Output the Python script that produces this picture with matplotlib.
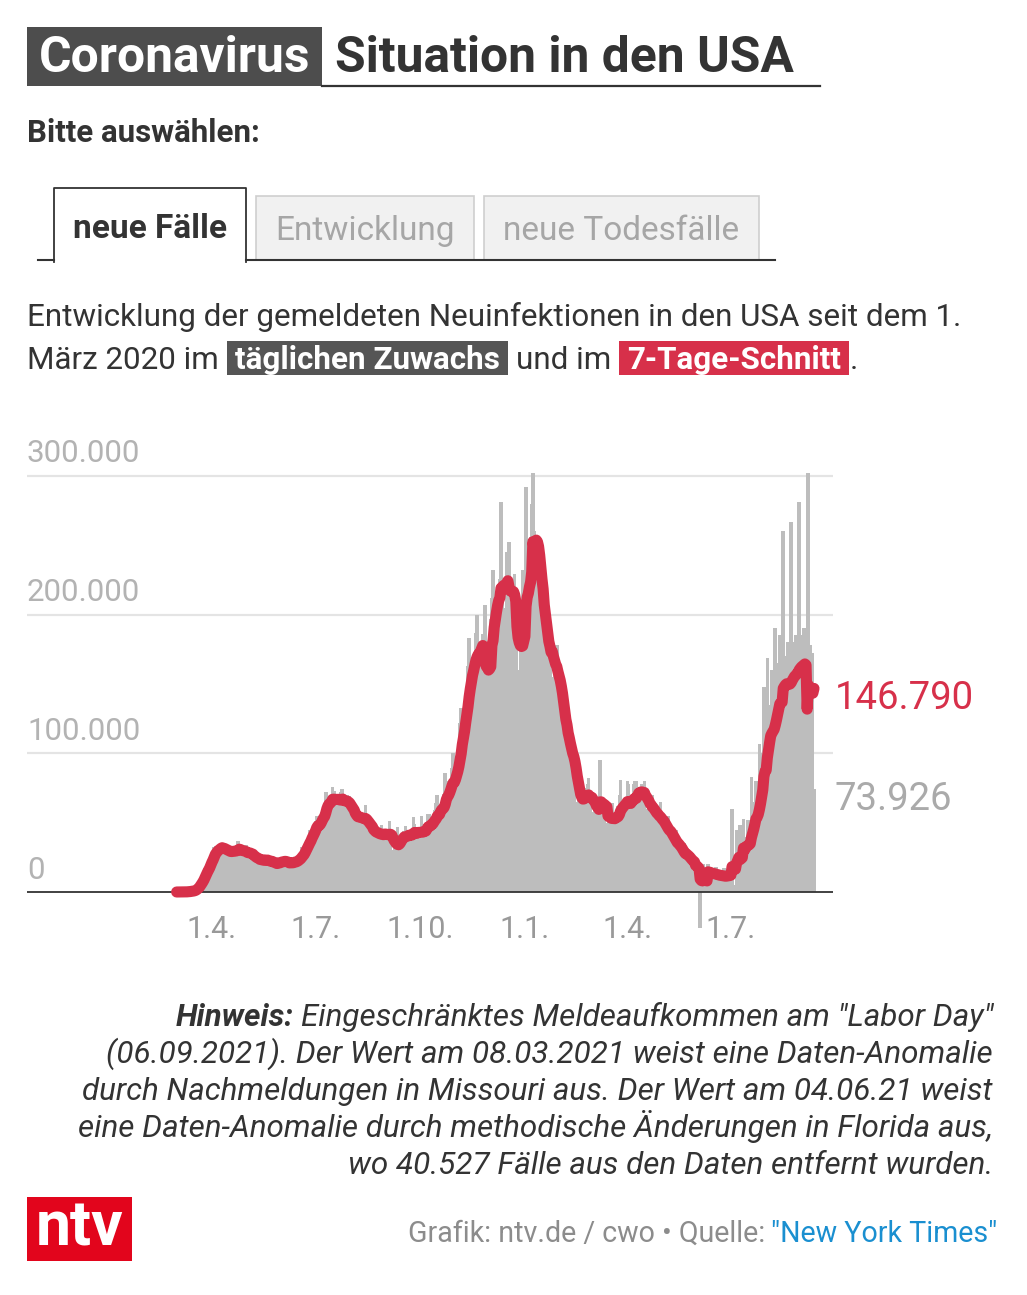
import numpy as np
import pandas as pd
import matplotlib
matplotlib.use("Agg")
import matplotlib.pyplot as plt
import matplotlib.dates as mdates
import matplotlib.transforms as mtransforms
from matplotlib.patches import Rectangle
from matplotlib.lines import Line2D

plt.rcParams['font.family'] = ['Roboto', 'DejaVu Sans']

# neue Fälle USA (NYT) in Tausend, eine Zeile pro Woche (So-Sa), ab 1. März 2020
weeks = [
    [0.01, 0.02, 0.02, 0.03, 0.05, 0.07, 0.1],
    [0.13, 0.2, 0.27, 0.45, 0.5, 0.7, 0.95],
    [0.95, 1.3, 1.9, 2.8, 4.6, 5.8, 6.8],
    [9.3, 10.2, 11.1, 13.2, 17.5, 18.3, 19.5],
    [20.0, 22.0, 25.5, 27.0, 29.5, 32.5, 33.5],
    [28.5, 29.0, 31.0, 31.5, 34.5, 35.5, 31.0],
    [27.5, 26.0, 27.5, 29.5, 31.0, 33.0, 29.5],
    [28.0, 26.5, 28.5, 30.5, 32.0, 36.5, 34.0],
    [26.5, 24.0, 25.5, 29.5, 30.5, 34.0, 30.0],
    [25.0, 23.0, 24.0, 26.5, 28.5, 27.5, 25.5],
    [20.5, 19.5, 21.5, 22.0, 27.0, 26.0, 24.5],
    [19.5, 21.0, 20.5, 22.5, 25.0, 24.0, 22.0],
    [19.5, 18.0, 18.5, 20.0, 22.0, 24.5, 24.0],
    [20.5, 21.0, 20.0, 21.5, 23.0, 24.5, 22.5],
    [18.5, 17.0, 20.0, 21.5, 23.5, 25.5, 25.0],
    [19.5, 19.5, 23.5, 26.5, 28.0, 32.5, 32.0],
    [27.0, 30.0, 35.5, 38.0, 39.5, 45.0, 43.0],
    [41.0, 41.5, 47.5, 51.0, 55.0, 54.5, 44.0],
    [46.0, 51.0, 60.0, 62.0, 63.5, 72.0, 66.0],
    [61.0, 60.0, 64.5, 68.5, 76.0, 72.5, 64.0],
    [62.0, 60.0, 63.5, 70.0, 72.0, 74.0, 67.5],
    [56.0, 57.0, 62.0, 70.0, 68.0, 69.0, 58.5],
    [47.0, 48.0, 53.0, 54.5, 58.5, 61.5, 56.0],
    [47.0, 45.5, 51.0, 53.5, 55.0, 63.0, 52.0],
    [40.0, 38.0, 43.0, 46.0, 47.5, 49.0, 46.0],
    [34.5, 35.0, 40.5, 43.0, 45.0, 48.5, 43.5],
    [34.0, 38.0, 40.0, 41.0, 44.0, 51.0, 43.0],
    [30.0, 25.0, 27.0, 33.0, 35.5, 47.0, 41.0],
    [34.5, 34.0, 39.0, 38.5, 44.0, 47.5, 43.0],
    [36.5, 38.0, 37.5, 40.5, 45.0, 54.0, 49.0],
    [33.5, 36.5, 42.0, 40.5, 45.5, 55.0, 49.0],
    [35.0, 40.5, 42.5, 50.5, 56.5, 56.5, 52.0],
    [43.0, 42.5, 52.0, 59.0, 64.0, 70.0, 56.0],
    [48.5, 57.5, 61.0, 63.0, 71.0, 86.0, 80.0],
    [61.0, 67.0, 74.5, 79.5, 89.5, 100.0, 82.0],
    [75.0, 88.0, 93.5, 105.0, 122.0, 133.0, 128.0],
    [107.0, 123.0, 137.0, 144.0, 163.0, 183.0, 168.0],
    [140.0, 159.0, 161.0, 172.0, 187.0, 200.0, 180.0],
    [143.0, 172.0, 176.0, 186.0, 105.0, 207.0, 150.0],
    [138.0, 158.0, 182.0, 197.0, 212.0, 232.0, 216.0],
    [178.0, 195.0, 216.0, 222.0, 226.0, 281.0, 218.0],
    [188.0, 196.0, 205.0, 245.0, 238.0, 252.0, 196.0],
    [185.0, 195.0, 205.0, 229.0, 205.0, 125.0, 140.0],
    [160.0, 180.0, 200.0, 232.0, 228.0, 150.0, 292.0],
    [205.0, 200.0, 233.0, 256.0, 280.0, 302.0, 260.0],
    [220.0, 225.0, 225.0, 232.0, 235.0, 242.0, 200.0],
    [170.0, 145.0, 180.0, 185.0, 195.0, 190.0, 175.0],
    [140.0, 150.0, 155.0, 165.0, 175.0, 178.0, 150.0],
    [118.0, 128.0, 125.0, 130.0, 130.0, 135.0, 105.0],
    [90.0, 88.0, 100.0, 102.0, 105.0, 110.0, 88.0],
    [65.0, 55.0, 60.0, 70.0, 75.0, 80.0, 72.0],
    [57.0, 56.0, 70.0, 75.0, 78.0, 82.0, 63.0],
    [52.0, 57.0, 58.0, 68.0, 68.0, 68.0, 58.0],
    [40.0, 95.0, 58.0, 60.0, 65.0, 65.0, 50.0],
    [38.0, 48.0, 53.0, 58.0, 60.0, 64.0, 50.0],
    [37.0, 53.0, 55.0, 62.0, 70.0, 81.0, 60.0],
    [45.0, 60.0, 62.0, 68.0, 80.0, 78.0, 62.0],
    [37.0, 70.0, 66.0, 78.0, 80.0, 80.0, 75.0],
    [50.0, 70.0, 72.0, 78.0, 77.0, 80.0, 60.0],
    [42.0, 60.0, 62.0, 65.0, 70.0, 70.0, 55.0],
    [33.0, 50.0, 55.0, 60.0, 62.0, 65.0, 48.0],
    [25.0, 45.0, 45.0, 50.0, 52.0, 55.0, 40.0],
    [20.0, 37.0, 35.0, 40.0, 42.0, 45.0, 30.0],
    [15.0, 30.0, 28.0, 32.0, 32.0, 35.0, 22.0],
    [13.0, 25.0, 23.0, 26.0, 25.0, 28.0, 17.0],
    [8.0, 7.0, 20.0, 22.0, 17.0, -26.0, 10.0],
    [6.0, 20.0, 15.0, 16.0, 15.0, 20.0, 8.0],
    [5.0, 17.0, 13.0, 15.0, 14.0, 18.0, 6.0],
    [4.0, 15.0, 12.0, 14.0, 13.0, 17.0, 5.0],
    [4.0, 16.0, 13.0, 15.0, 15.0, 60.0, 5.0],
    [3.0, 4.0, 45.0, 28.0, 30.0, 48.0, 10.0],
    [8.0, 53.0, 35.0, 38.0, 40.0, 52.0, 12.0],
    [14.0, 83.0, 55.0, 60.0, 65.0, 80.0, 20.0],
    [28.0, 107.0, 85.0, 95.0, 100.0, 148.0, 45.0],
    [35.0, 169.0, 125.0, 132.0, 135.0, 160.0, 55.0],
    [45.0, 190.0, 150.0, 160.0, 165.0, 185.0, 60.0],
    [48.0, 260.0, 160.0, 168.0, 170.0, 180.0, 62.0],
    [50.0, 267.0, 172.0, 178.0, 180.0, 185.0, 70.0],
    [55.0, 281.0, 180.0, 185.0, 185.0, 190.0, 75.0],
    [50.0, 58.0, 302.0, 175.0, 178.0, 172.604, 68.0],
    [73.926],
]
start_date = '2020-03-01'

tick_dates = ['2020-04-01', '2020-07-01', '2020-10-01', '2021-01-01', '2021-04-01', '2021-07-01']
tick_labels = ['1.4.', '1.7.', '1.10.', '1.1.', '1.4.', '1.7.']
grid_values = [0, 100, 200, 300]
grid_labels = ['0', '100.000', '200.000', '300.000']

tabs = ['neue Fälle', 'Entwicklung', 'neue Todesfälle']
note_lines = [
    'Eingeschränktes Meldeaufkommen am "Labor Day"',
    '(06.09.2021). Der Wert am 08.03.2021 weist eine Daten-Anomalie',
    'durch Nachmeldungen in Missouri aus. Der Wert am 04.06.21 weist',
    'eine Daten-Anomalie durch methodische Änderungen in Florida aus,',
    'wo 40.527 Fälle aus den Daten entfernt wurden.',
]

daily_k = np.array(sum(weeks, []))
dates = pd.date_range(start_date, periods=len(daily_k), freq='D')
xs = mdates.date2num(dates)
avg_k = pd.Series(daily_k).rolling(7, min_periods=1).mean().values


def de_num(v):
    return f"{v * 1000:,.0f}".replace(',', '.')


DARK = '#333333'
RED = '#d7304a'
BODY = 22.6
W, H = 1027, 1295
fig = plt.figure(figsize=(W / 100, H / 100), dpi=100)
renderer = fig.canvas.get_renderer()


def fx(x):
    return x / W


def fy(y):
    return 1 - y / H


def rect(x0, y0, x1, y1, **kw):
    fig.add_artist(Rectangle((fx(x0), fy(y1)), (x1 - x0) / W, (y1 - y0) / H,
                             transform=fig.transFigure, **kw))


def line(xx, yy, color, lw):
    fig.add_artist(Line2D([fx(v) for v in xx], [fy(v) for v in yy],
                          transform=fig.transFigure, color=color, lw=lw))


def text_w(t):
    return t.get_window_extent(renderer).width


# title
rect(27, 27, 322, 86, fc='#4d4d4d', ec='none')
fig.text(fx(39), fy(72), 'Coronavirus', color='white', fontsize=35.8, fontweight='bold', va='baseline')
fig.text(fx(335), fy(72), 'Situation in den USA', color=DARK, fontsize=35.8, fontweight='bold', va='baseline')
line([322, 820], [86, 86], DARK, 1.6)

fig.text(fx(27), fy(142), 'Bitte auswählen:', color=DARK, fontsize=22.5, fontweight='bold', va='baseline')

# tabs
rect(256, 196, 474, 260, fc='#f1f1f1', ec='#cfcfcf', lw=1.2)
rect(484, 196, 759, 260, fc='#f1f1f1', ec='#cfcfcf', lw=1.2)
line([38, 54], [260, 260], DARK, 1.5)
line([246, 775], [260, 260], DARK, 1.5)
line([54, 54, 246, 246], [262, 188, 188, 262], DARK, 1.3)
fig.text(fx(150), fy(238), tabs[0], color=DARK, fontsize=24, fontweight='bold', ha='center', va='baseline')
fig.text(fx(365), fy(240), tabs[1], color='#a6a6a6', fontsize=24, ha='center', va='baseline')
fig.text(fx(621), fy(240), tabs[2], color='#a6a6a6', fontsize=24, ha='center', va='baseline')

# description
fig.text(fx(27), fy(326), 'Entwicklung der gemeldeten Neuinfektionen in den USA seit dem 1.',
         color=DARK, fontsize=BODY, va='baseline')
parts = [('März 2020 im', None), ('täglichen Zuwachs', '#555555'), ('und im', None),
         ('7-Tage-Schnitt', RED), ('.', None)]
x = 27
for i, (s, bg) in enumerate(parts):
    if bg is None:
        t = fig.text(fx(x), fy(369), s, color=DARK, fontsize=BODY, va='baseline')
        x += text_w(t) + 8
    else:
        t = fig.text(fx(x + 8), fy(369), s, color='white', fontsize=BODY, fontweight='bold',
                     va='baseline', zorder=3)
        w = text_w(t)
        rect(x, 341, x + w + 16, 375, fc=bg, ec='none', zorder=2)
        x += w + 16 + (1 if parts[i + 1][0] == '.' else 8)

# chart
ax = fig.add_axes([fx(27), fy(940), (833 - 27) / W, (940 - 440) / H])
ax.axis('off')
ax.set_xlim(mdates.date2num(pd.Timestamp('2019-10-21 12:00')),
            mdates.date2num(pd.Timestamp('2021-09-28 17:00')))
ax.set_ylim(-34.6, 325.9)

for v in grid_values[1:]:
    ax.axhline(v, color='#e4e4e4', lw=1.6, zorder=0)
ax.bar(xs, daily_k, width=3.2, color='#bdbdbd', linewidth=0, zorder=1)
ax.axhline(0, color=DARK, lw=1.3, zorder=2)
ax.plot(xs, avg_k, color=RED, lw=8, solid_capstyle='round', solid_joinstyle='round', zorder=3)

ylab_tr = mtransforms.offset_copy(mtransforms.blended_transform_factory(ax.transAxes, ax.transData),
                                  fig=fig, y=22, units='dots')
for v, s in zip(grid_values, grid_labels):
    ax.text(0, v, s, transform=ylab_tr, color='#b3b3b3', fontsize=22.5, va='center', ha='left')

xlab_tr = mtransforms.offset_copy(ax.transData, fig=fig, y=-37, units='dots')
for d, s in zip(tick_dates, tick_labels):
    ax.text(mdates.date2num(pd.Timestamp(d)), 0, s, transform=xlab_tr, color='#999999',
            fontsize=22, ha='center', va='center')

ax.annotate(de_num(avg_k[-1]), xy=(xs[-1], avg_k[-1]), xytext=(15, -7), textcoords='offset points',
            color=RED, fontsize=27.5, va='center', ha='left', annotation_clip=False)
ax.annotate(de_num(daily_k[-1]), xy=(xs[-1], daily_k[-1]), xytext=(15, -7), textcoords='offset points',
            color='#aaaaaa', fontsize=27.5, va='center', ha='left', annotation_clip=False)

# note
note_base = [1026, 1063, 1100, 1137, 1174]
for i, (s, yb) in enumerate(zip(note_lines, note_base)):
    t = fig.text(fx(993), fy(yb), s, color=DARK, fontsize=BODY, style='italic', ha='right', va='baseline')
    if i == 0:
        w = text_w(t)
        fig.text(fx(993 - w - 7), fy(yb), 'Hinweis:', color=DARK, fontsize=BODY, style='italic',
                 fontweight='bold', ha='right', va='baseline')

# footer
rect(27, 1197, 132, 1261, fc='#e2051c', ec='none')
fig.text(fx(80), fy(1246), 'ntv', color='white', fontsize=45, fontweight='bold', ha='center', va='baseline')
t = fig.text(fx(997), fy(1242), '"New York Times"', color='#1a8fd0', fontsize=20.6, ha='right', va='baseline')
w = text_w(t)
fig.text(fx(997 - w - 6), fy(1242), 'Grafik: ntv.de / cwo • Quelle:', color='#8c8c8c', fontsize=20.6,
         ha='right', va='baseline')

fig.savefig('out.png', dpi=100)
